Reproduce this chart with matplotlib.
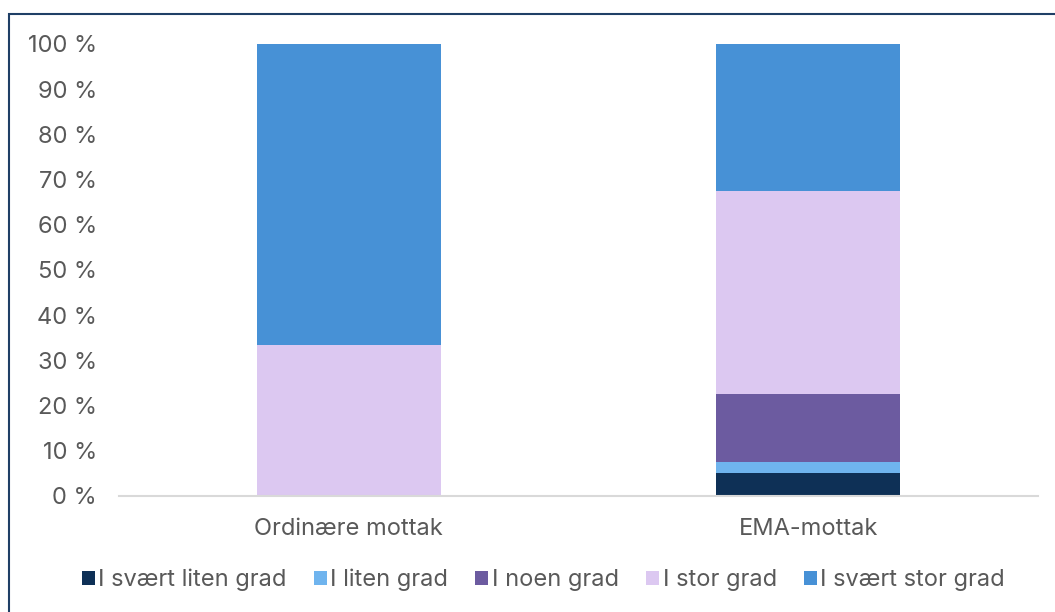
import matplotlib
matplotlib.use("Agg")
import matplotlib.pyplot as plt
from matplotlib.patches import Rectangle
from matplotlib.ticker import FuncFormatter
import numpy as np

categories = ["Ordinære mottak", "EMA-mottak"]
series_names = ["I svært liten grad", "I liten grad", "I noen grad", "I stor grad", "I svært stor grad"]
svaert_liten = [0.0, 5.0]
liten = [0.0, 2.5]
noen = [0.0, 15.0]
stor = [33.3, 45.0]
svaert_stor = [66.7, 32.5]
colors = ["#0E3056", "#6FB4EE", "#6C5BA0", "#DCC8F1", "#4791D6"]

plt.rcParams['font.family'] = ['Inter', 'DejaVu Sans']
W, H = 1055, 612
fig = plt.figure(figsize=(W/100, H/100), dpi=100)
ax = fig.add_axes([119/W, 1-496/H, (1038-119)/W, (496-44)/H])

x = np.arange(len(categories))
bottom = np.zeros(len(categories))
for name, vals, c in zip(series_names, [svaert_liten, liten, noen, stor, svaert_stor], colors):
    ax.bar(x, vals, 0.4, bottom=bottom, color=c, label=name)
    bottom += np.array(vals)

ax.set_xlim(-0.5, 1.5)
ax.set_ylim(0, 100)
ax.set_yticks(range(0, 101, 10))
ax.yaxis.set_major_formatter(FuncFormatter(lambda v, p: f"{int(v)} %"))
ax.set_xticks(x)
ax.set_xticklabels(categories)
for s in ["top", "right", "left"]:
    ax.spines[s].set_visible(False)
ax.spines["bottom"].set_color("#D9D9D9")
ax.spines["bottom"].set_linewidth(1.5)
ax.tick_params(axis="both", length=0, labelsize=17, colors="#595959")
ax.tick_params(axis="y", pad=16)
ax.tick_params(axis="x", pad=16)

leg = fig.legend(loc="center", bbox_to_anchor=(0.5 + 16/W, 1-580/H), ncol=5, frameon=False,
                 fontsize=17, handlelength=0.55, handleheight=0.55, handletextpad=0.15,
                 columnspacing=1.15)
for t in leg.get_texts():
    t.set_color("#595959")

fig.patches.append(Rectangle((9/W, -0.1), 1.2, 1-14/H+0.1, transform=fig.transFigure,
                             fill=False, edgecolor="#1F3F66", linewidth=1.5))

fig.savefig("out.png", dpi=100)
